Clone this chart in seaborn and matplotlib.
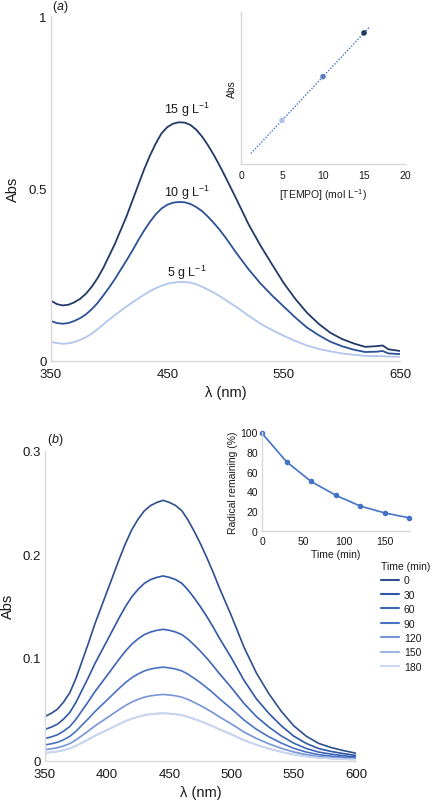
import numpy as np
import pandas as pd
import matplotlib
matplotlib.use('Agg')
import matplotlib.pyplot as plt
import seaborn as sns

# (a) absorbance spectra at three TEMPO loadings
WL_A = [350, 355, 360, 365, 370, 375, 380, 385, 390, 395, 400, 405, 410, 415,
        420, 425, 430, 435, 440, 445, 450, 455, 460, 465, 470, 475, 480, 485,
        490, 495, 500, 510, 520, 530, 540, 550, 560, 570, 580, 590, 600, 610,
        620, 630, 635, 640, 650]
ABS_15 = [0.175, 0.165, 0.161, 0.163, 0.170, 0.180, 0.195, 0.215, 0.240, 0.270,
          0.305, 0.340, 0.380, 0.420, 0.465, 0.510, 0.555, 0.595, 0.630, 0.660,
          0.678, 0.688, 0.692, 0.691, 0.684, 0.670, 0.650, 0.625, 0.597, 0.566,
          0.533, 0.465, 0.395, 0.335, 0.280, 0.226, 0.180, 0.140, 0.108, 0.082,
          0.064, 0.051, 0.041, 0.043, 0.045, 0.034, 0.029]
ABS_10 = [0.116, 0.110, 0.108, 0.110, 0.116, 0.124, 0.135, 0.150, 0.168, 0.190,
          0.213, 0.238, 0.265, 0.292, 0.320, 0.350, 0.378, 0.403, 0.425, 0.442,
          0.453, 0.459, 0.461, 0.460, 0.455, 0.446, 0.434, 0.418, 0.400, 0.380,
          0.358, 0.310, 0.265, 0.225, 0.190, 0.158, 0.126, 0.097, 0.075, 0.056,
          0.043, 0.033, 0.026, 0.027, 0.029, 0.022, 0.020]
ABS_5 = [0.055, 0.052, 0.050, 0.051, 0.055, 0.061, 0.069, 0.079, 0.092, 0.106,
         0.120, 0.133, 0.146, 0.158, 0.170, 0.181, 0.192, 0.202, 0.211, 0.218,
         0.224, 0.227, 0.229, 0.229, 0.227, 0.222, 0.215, 0.207, 0.198, 0.188,
         0.177, 0.155, 0.131, 0.108, 0.090, 0.073, 0.058, 0.045, 0.035, 0.028,
         0.022, 0.018, 0.015, 0.014, 0.014, 0.013, 0.012]
CONC_LABELS = ['15 g L$^{-1}$', '10 g L$^{-1}$', '5 g L$^{-1}$']
CONC_COLORS = ['#22396a', '#2c5196', '#b1c6ea']

# (a) inset: calibration
TEMPO = [5, 10, 15]
ABS_PEAK = [0.23, 0.46, 0.69]
PT_COLORS = ['#aec3e8', '#5a7bbd', '#1f3864']
TREND_RANGE = [1.2, 15.6]

# (b) spectra vs time
WL_B = [350, 355, 360, 365, 370, 375, 380, 385, 390, 395, 400, 405, 410, 415,
        420, 425, 430, 435, 440, 445, 450, 455, 460, 465, 470, 475, 480, 485,
        490, 495, 500, 510, 520, 530, 540, 550, 560, 570, 580, 590, 600]
ABS_T0 = [0.043, 0.046, 0.050, 0.057, 0.066, 0.080, 0.097, 0.114, 0.132, 0.148,
          0.164, 0.180, 0.196, 0.211, 0.224, 0.234, 0.242, 0.247, 0.250, 0.252,
          0.250, 0.247, 0.242, 0.233, 0.222, 0.210, 0.197, 0.183, 0.168, 0.154,
          0.140, 0.110, 0.085, 0.065, 0.048, 0.034, 0.024, 0.017, 0.013, 0.010,
          0.0075]
ABS_T30 = [0.0305, 0.0327, 0.0355, 0.0405, 0.0469, 0.0568, 0.0689, 0.0809,
           0.0937, 0.1051, 0.1164, 0.1278, 0.1392, 0.1498, 0.159, 0.1661,
           0.1718, 0.1754, 0.1775, 0.1789, 0.1775, 0.1754, 0.1718, 0.1654,
           0.1576, 0.1491, 0.1399, 0.1299, 0.1193, 0.1093, 0.0994, 0.078,
           0.060, 0.046, 0.034, 0.024, 0.017, 0.012, 0.0092, 0.0071, 0.0053]
ABS_T60 = [0.0217, 0.0232, 0.0253, 0.0288, 0.0333, 0.0404, 0.049, 0.0576,
           0.0667, 0.0747, 0.0828, 0.0909, 0.099, 0.1066, 0.1131, 0.1182,
           0.1222, 0.1247, 0.1263, 0.1273, 0.1263, 0.1247, 0.1222, 0.1177,
           0.1121, 0.1061, 0.0995, 0.0924, 0.0848, 0.0778, 0.0707, 0.0556,
           0.0429, 0.0328, 0.0242, 0.0172, 0.0121, 0.0086, 0.0066, 0.0051, 0.0038]
ABS_T90 = [0.0155, 0.0166, 0.018, 0.0205, 0.0238, 0.0288, 0.0349, 0.041,
           0.0475, 0.0533, 0.059, 0.0648, 0.0706, 0.076, 0.0806, 0.0842,
           0.0871, 0.0889, 0.090, 0.0907, 0.090, 0.0889, 0.0871, 0.0839,
           0.0799, 0.0756, 0.0709, 0.0659, 0.0605, 0.0554, 0.0504, 0.0396,
           0.0306, 0.0234, 0.0173, 0.0122, 0.0086, 0.0061, 0.0047, 0.0036, 0.0027]
ABS_T120 = [0.011, 0.0117, 0.0128, 0.0145, 0.0168, 0.0204, 0.0247, 0.0291,
            0.0337, 0.0377, 0.0418, 0.0459, 0.050, 0.0538, 0.0571, 0.0597,
            0.0617, 0.063, 0.0638, 0.0643, 0.0638, 0.063, 0.0617, 0.0594,
            0.0566, 0.0536, 0.0502, 0.0467, 0.0428, 0.0393, 0.0357, 0.028,
            0.0217, 0.0166, 0.0122, 0.0087, 0.0061, 0.0043, 0.0033, 0.0026, 0.0019]
ABS_T150 = [0.0079, 0.0084, 0.0092, 0.0104, 0.0121, 0.0146, 0.0178, 0.0209,
            0.0242, 0.0271, 0.030, 0.0329, 0.0359, 0.0386, 0.041, 0.0428,
            0.0443, 0.0452, 0.0458, 0.0461, 0.0458, 0.0452, 0.0443, 0.0426,
            0.0406, 0.0384, 0.036, 0.0335, 0.0307, 0.0282, 0.0256, 0.0201,
            0.0156, 0.0119, 0.0088, 0.0062, 0.0044, 0.0031, 0.0024, 0.0018, 0.0014]
# the 180 min trace sits on top of the 150 min one in the figure
ABS_T180 = [0.0079, 0.0084, 0.0092, 0.0104, 0.0121, 0.0146, 0.0178, 0.0209,
            0.0242, 0.0271, 0.030, 0.0329, 0.0359, 0.0386, 0.041, 0.0428,
            0.0443, 0.0452, 0.0458, 0.0461, 0.0458, 0.0452, 0.0443, 0.0426,
            0.0406, 0.0384, 0.036, 0.0335, 0.0307, 0.0282, 0.0256, 0.0201,
            0.0156, 0.0119, 0.0088, 0.0062, 0.0044, 0.0031, 0.0024, 0.0018, 0.0014]
TIME_LABELS = ['0', '30', '60', '90', '120', '150', '180']
TIME_COLORS = ['#2e4f8e', '#2f56a5', '#3c64b5', '#4a72c5', '#7695d6',
               '#9db3e1', '#cbd8f0']

# (b) inset: decay
TIME_MIN = [0, 30, 60, 90, 120, 150, 180]
REMAINING = [99, 70, 50, 36, 25, 18, 13]

SPINE = '#d9d9d9'
TXT = '#1a1a1a'


def style_axes(ax, size):
    sns.despine(ax=ax)
    for s in ('left', 'bottom'):
        ax.spines[s].set_color(SPINE)
        ax.spines[s].set_linewidth(1.0)
    ax.tick_params(length=0, labelsize=size, colors=TXT, pad=3)


sns.set_theme(style='white')
plt.rcParams['font.family'] = ['Liberation Sans', 'DejaVu Sans']
plt.rcParams['mathtext.fontset'] = 'custom'
plt.rcParams['mathtext.rm'] = 'Liberation Sans'
plt.rcParams['mathtext.it'] = 'Liberation Sans:italic'

fig = plt.figure(figsize=(4.32, 8.03), dpi=100)

# ---------- (a) ----------
ax_a = fig.add_axes([0.118, 0.5492, 0.808, 0.4296])
df_a = pd.concat([
    pd.DataFrame({'wl': WL_A, 'abs': vals, 'conc': lab})
    for vals, lab in zip([ABS_15, ABS_10, ABS_5], CONC_LABELS)
])
sns.lineplot(data=df_a, x='wl', y='abs', hue='conc', hue_order=CONC_LABELS,
             palette=dict(zip(CONC_LABELS, CONC_COLORS)), legend=False,
             lw=1.3, ax=ax_a)
ax_a.set_xlim(350, 650)
ax_a.set_ylim(0, 1)
ax_a.set_xticks([350, 450, 550, 650])
ax_a.set_yticks([0, 0.5, 1])
ax_a.set_yticklabels(['0', '0.5', '1'])
style_axes(ax_a, 9.5)
ax_a.tick_params(axis='x', pad=5)
ax_a.set_xlabel('λ (nm)', fontsize=10.5, color=TXT, labelpad=4)
ax_a.set_ylabel('Abs', fontsize=10.5, color=TXT, labelpad=6)
for lab, yy in zip(CONC_LABELS, [0.73, 0.49, 0.258]):
    ax_a.text(467, yy, lab, ha='center', va='center', fontsize=9, color=TXT)
fig.text(0.120, 0.991, '($\\mathit{a}$)', fontsize=9, color=TXT,
         ha='left', va='center')

ax_ai = fig.add_axes([0.558, 0.7945, 0.3795, 0.1893])
sns.lineplot(x=TREND_RANGE, y=np.polyval(np.polyfit(TEMPO, ABS_PEAK, 1), TREND_RANGE),
             color='#4472c4', lw=1.0, ls=(0, (1, 1.2)), ax=ax_ai)
sns.scatterplot(x=TEMPO, y=ABS_PEAK, hue=[str(t) for t in TEMPO],
                palette=dict(zip([str(t) for t in TEMPO], PT_COLORS)),
                s=16, linewidth=0, legend=False, zorder=3, ax=ax_ai)
ax_ai.set_xlim(0, 20)
ax_ai.set_ylim(0, 0.8)
ax_ai.set_xticks([0, 5, 10, 15, 20])
ax_ai.set_yticks([])
style_axes(ax_ai, 7.5)
ax_ai.tick_params(axis='x', pad=4)
ax_ai.set_xlabel('[TEMPO] (mol L$^{-1}$)', fontsize=7.5, color=TXT, labelpad=5)
ax_ai.set_ylabel('Abs', fontsize=7.5, color=TXT, labelpad=3)

# ---------- (b) ----------
ax_b = fig.add_axes([0.104, 0.0511, 0.720, 0.3864])
df_b = pd.concat([
    pd.DataFrame({'wl': WL_B, 'abs': vals, 'time': lab})
    for vals, lab in zip([ABS_T0, ABS_T30, ABS_T60, ABS_T90, ABS_T120,
                          ABS_T150, ABS_T180], TIME_LABELS)
])
sns.lineplot(data=df_b, x='wl', y='abs', hue='time', hue_order=TIME_LABELS,
             palette=dict(zip(TIME_LABELS, TIME_COLORS)), lw=1.2, ax=ax_b)
ax_b.set_xlim(350, 600)
ax_b.set_ylim(0, 0.3)
ax_b.set_xticks([350, 400, 450, 500, 550, 600])
ax_b.set_yticks([0, 0.1, 0.2, 0.3])
ax_b.set_yticklabels(['0', '0.1', '0.2', '0.3'])
style_axes(ax_b, 9.5)
ax_b.tick_params(axis='x', pad=5)
ax_b.set_xlabel('λ (nm)', fontsize=10.5, color=TXT, labelpad=4)
ax_b.set_ylabel('Abs', fontsize=10.5, color=TXT, labelpad=5)
leg = ax_b.legend(title='Time (min)', loc='upper left',
                  bbox_to_anchor=(0.882, 1 - 562 / 803),
                  bbox_transform=fig.transFigure, frameon=False,
                  fontsize=7.5, title_fontsize=7.5, handlelength=1.7,
                  handletextpad=0.5, labelspacing=0.42, borderpad=0,
                  borderaxespad=0, alignment='left')
for h in leg.get_lines():
    h.set_linewidth(1.5)
for t in leg.get_texts():
    t.set_color(TXT)
leg.get_title().set_color(TXT)
fig.text(0.108, 1 - 440 / 803, '($\\mathit{b}$)', fontsize=9, color=TXT,
         ha='left', va='center')

ax_bi = fig.add_axes([0.6065, 0.3379, 0.343, 0.1225])
sns.lineplot(x=TIME_MIN, y=REMAINING, color='#4472c4', lw=1.2, marker='o',
             markersize=4, markeredgewidth=0, clip_on=False, ax=ax_bi)
ax_bi.set_xlim(0, 181)
ax_bi.set_ylim(0, 100)
ax_bi.set_xticks([0, 50, 100, 150])
ax_bi.set_yticks([0, 20, 40, 60, 80, 100])
style_axes(ax_bi, 7.5)
ax_bi.tick_params(axis='x', pad=4)
ax_bi.set_xlabel('Time (min)', fontsize=7.5, color=TXT, labelpad=2)
ax_bi.set_ylabel('Radical remaining (%)', fontsize=7.5, color=TXT, labelpad=2)

fig.savefig('out.png', dpi=100)
